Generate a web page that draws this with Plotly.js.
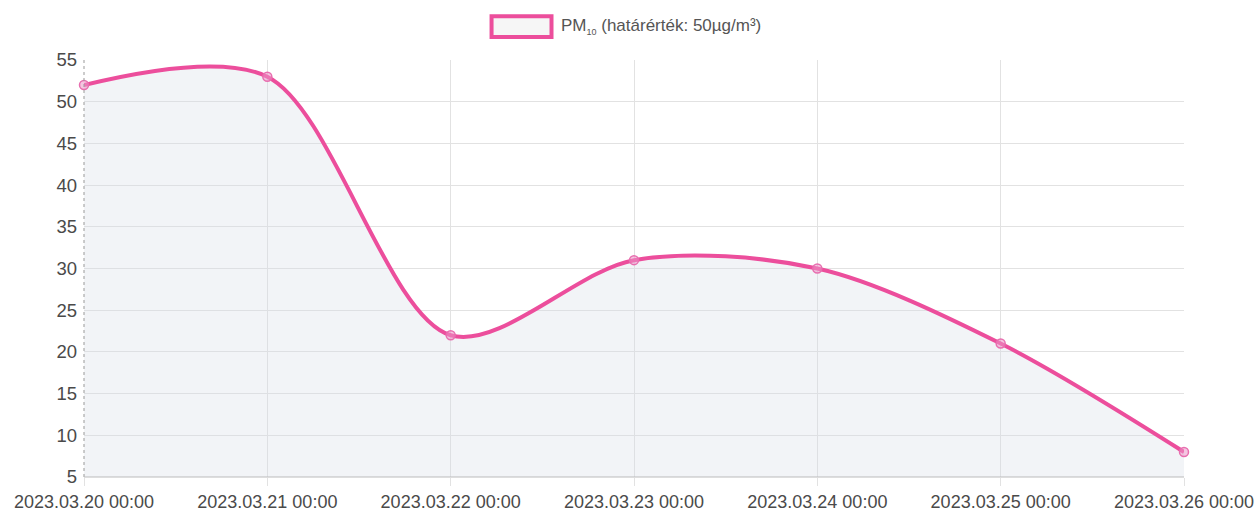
<!DOCTYPE html>
<html>
<head>
<meta charset="utf-8">
<script src="https://cdn.plot.ly/plotly-3.0.1.min.js"></script>
<style>html,body{margin:0;padding:0;background:#fff;}#chart{width:1255px;height:519px;}</style>
</head>
<body>
<div id="chart"></div>
<script>
const dates = ['2023-03-20 00:00','2023-03-21 00:00','2023-03-22 00:00','2023-03-23 00:00','2023-03-24 00:00','2023-03-25 00:00','2023-03-26 00:00'];
const pm10 = [52, 53, 22, 31, 30, 21, 8];
const seriesName = 'PM<sub><span style="font-size:9px">10</span></sub> (határérték: 50µg/m³)';
const yTicks = [5,10,15,20,25,30,35,40,45,50,55];

const trace = {
  x: dates, y: pm10, type: 'scatter', mode: 'lines+markers',
  line: {shape: 'spline', smoothing: 0.9, color: 'rgb(236,78,156)', width: 4},
  marker: {size: 9, color: 'rgba(236,150,200,0.55)', line: {color: 'rgb(232,110,175)', width: 1.5}},
  fill: 'tozeroy', fillcolor: 'rgba(215,222,230,0.33)',
  cliponaxis: false,
  showlegend: false, hoverinfo: 'x+y'
};

const layout = {
  width: 1255, height: 519,
  margin: {l: 84, r: 71, t: 60, b: 42},
  paper_bgcolor: '#fff', plot_bgcolor: '#fff',
  font: {family: 'Liberation Sans, Arial, sans-serif', color: '#555', size: 18},
  xaxis: {
    type: 'date', range: [dates[0], dates[dates.length-1]],
    tickvals: dates, tickformat: '%Y.%m.%d %H:%M',
    showgrid: true, gridcolor: '#e2e2e2', gridwidth: 1,
    zeroline: false, showline: false, ticks: 'outside', ticklen: 8, tickcolor: '#e2e2e2',
    ticklabeloverflow: 'allow',
    tickfont: {size: 18, color: '#4a4a4a'}
  },
  yaxis: {
    range: [5, 55], tickvals: yTicks,
    showgrid: true, gridcolor: '#e2e2e2', gridwidth: 1,
    zeroline: false, showline: false, ticks: '', ticklabelstandoff: 6,
    tickfont: {size: 18.5, color: '#4a4a4a'}
  },
  shapes: [
    {type: 'line', xref: 'paper', yref: 'paper', x0: 0, x1: 0, y0: 0, y1: 1,
     line: {color: '#999', width: 1, dash: 'dot'}},
    {type: 'line', xref: 'paper', yref: 'paper', x0: 0, x1: 1, y0: 0, y1: 0,
     line: {color: '#bbb', width: 1}},
    {type: 'rect', xref: 'paper', yref: 'paper', x0: 0.3705, x1: 0.425, y0: 1.055, y1: 1.105,
     fillcolor: '#f6f6f6', line: {color: 'rgb(236,78,156)', width: 4}}
  ],
  annotations: [
    {xref: 'paper', yref: 'paper', x: 0.432, y: 1.08, xanchor: 'left', yanchor: 'middle',
     text: seriesName, showarrow: false, font: {size: 17, color: '#555'}}
  ]
};

Plotly.newPlot('chart', [trace], layout, {displayModeBar: false, responsive: false});
</script>
</body>
</html>
